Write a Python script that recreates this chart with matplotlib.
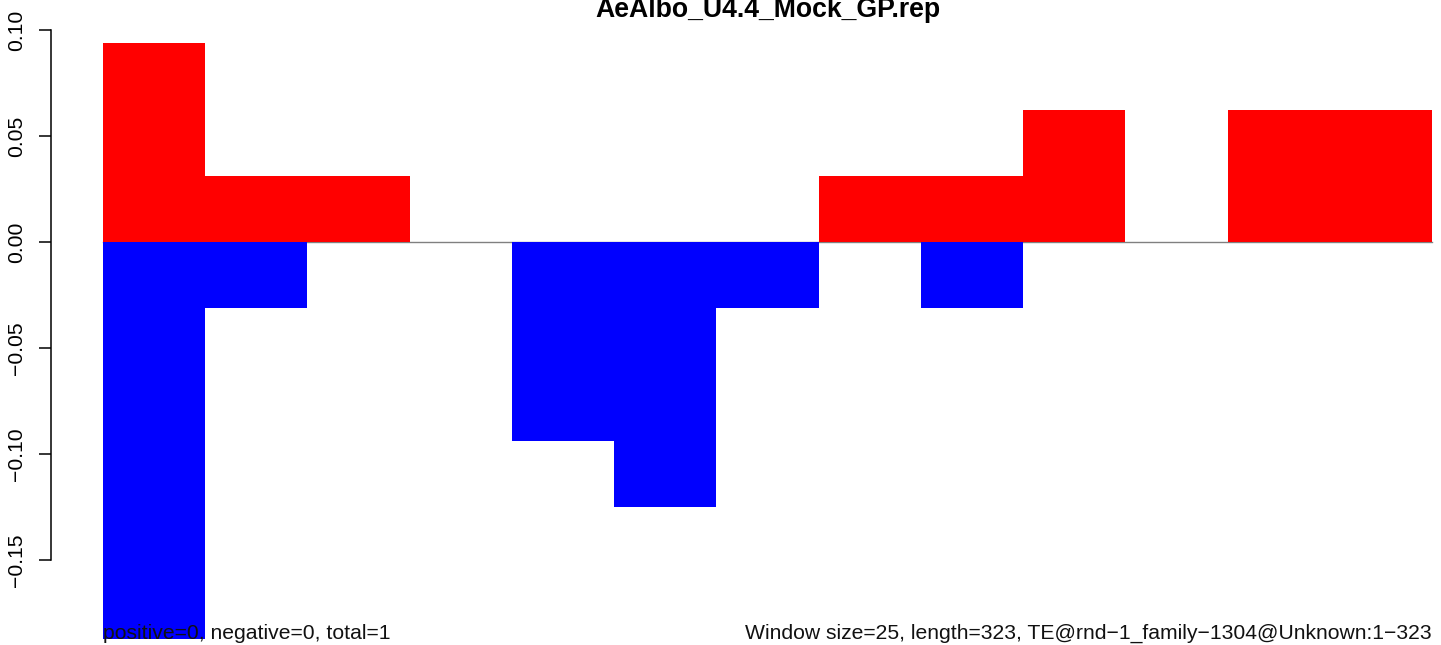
import matplotlib
matplotlib.use("Agg")
import matplotlib.pyplot as plt
import numpy as np

plt.rcParams['font.family'] = ['Liberation Sans', 'DejaVu Sans']

title = "AeAlbo_U4.4_Mock_GP.rep"
n_bins = 13
pos_vals = [3/32, 1/32, 1/32, 0, 0, 0, 0, 1/32, 1/32, 2/32, 0, 2/32, 2/32]
neg_vals = [-6/32, -1/32, 0, 0, -3/32, -4/32, -1/32, 0, -1/32, 0, 0, 0, 0]
yticks = [-0.15, -0.10, -0.05, 0.00, 0.05, 0.10]
ytick_labels = ["\u22120.15", "\u22120.10", "\u22120.05", "0.00", "0.05", "0.10"]
left_text = "positive=0, negative=0, total=1"
right_text = "Window size=25, length=323, TE@rnd\u22121_family\u22121304@Unknown:1\u2212323"

W, H = 1441, 645
fig = plt.figure(figsize=(W/100, H/100), dpi=100)
ax = fig.add_axes([0, 0, 1, 1])

# pixel mapping
x0_px, bw_px = 103, (1432 - 103) / n_bins
y0_px, scale = 242, 2120
ax.set_xlim(-x0_px / bw_px, (W - x0_px) / bw_px)
ax.set_ylim(-(H - y0_px) / scale, y0_px / scale)

x = np.arange(n_bins)
ax.plot([0, n_bins], [0, 0], color='#808080', lw=1.0, zorder=1)
ax.bar(x, pos_vals, width=1.0, align='edge', color='#FF0000', lw=0, zorder=2)
ax.bar(x, neg_vals, width=1.0, align='edge', color='#0000FF', lw=0, zorder=2)

for s in ['top', 'right', 'bottom']:
    ax.spines[s].set_visible(False)
ax.spines['left'].set_position(('axes', 51 / W))
ax.spines['left'].set_bounds(-0.15, 0.10)
ax.spines['left'].set_linewidth(1.1)
ax.set_xticks([])
ax.set_yticks(yticks)
ax.set_yticklabels(ytick_labels, rotation=90, va='center', fontsize=15.2)
ax.tick_params(axis='y', length=9, width=1.1, pad=9)

fig.text(768 / W, 1 - 10 / H, title, ha='center', va='center',
         fontsize=19.2, fontweight='bold')
ax.text(x0_px / W, 1 - 639 / H, left_text, transform=ax.transAxes,
        ha='left', va='baseline', fontsize=15.2, color='#111111')
ax.text(1432 / W, 1 - 639 / H, right_text, transform=ax.transAxes,
        ha='right', va='baseline', fontsize=15.2, color='#111111')

fig.savefig("out.png", dpi=100)
